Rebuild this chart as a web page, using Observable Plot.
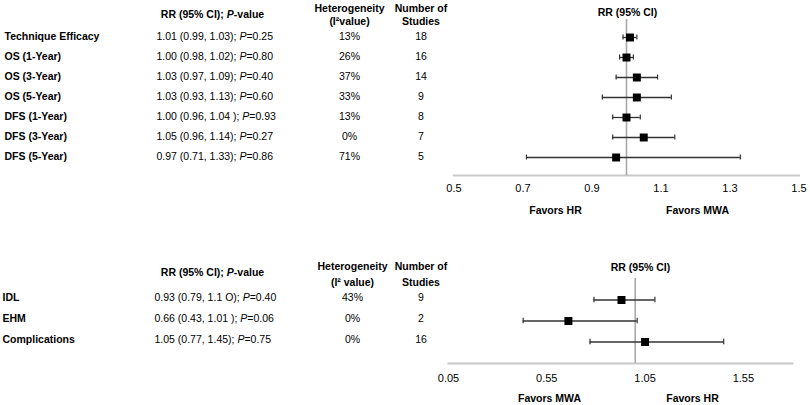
<!DOCTYPE html>
<html>
<head>
<meta charset="utf-8">
<script src="https://cdn.jsdelivr.net/npm/d3@7"></script>
<script src="https://cdn.jsdelivr.net/npm/@observablehq/plot@0.6"></script>
<style>
  html, body { margin: 0; padding: 0; background: #fff; }
  #chart { width: 810px; height: 405px; position: relative; overflow: hidden; }
  #chart svg { display: block; }
</style>
</head>
<body>
<div id="chart"></div>
<script>
// ---------- Data (top panel) ----------
const topOutcomes = ["Technique Efficacy", "OS (1-Year)", "OS (3-Year)", "OS (5-Year)", "DFS (1-Year)", "DFS (3-Year)", "DFS (5-Year)"];
const topRR    = [1.01, 1.00, 1.03, 1.03, 1.00, 1.05, 0.97];
const topLower = [0.99, 0.98, 0.97, 0.93, 0.96, 0.96, 0.71];
const topUpper = [1.03, 1.02, 1.09, 1.13, 1.04, 1.14, 1.33];
const topRRText = [
  "1.01 (0.99, 1.03); P=0.25",
  "1.00 (0.98, 1.02); P=0.80",
  "1.03 (0.97, 1.09); P=0.40",
  "1.03 (0.93, 1.13); P=0.60",
  "1.00 (0.96, 1.04 ); P=0.93",
  "1.05 (0.96, 1.14); P=0.27",
  "0.97 (0.71, 1.33); P=0.86"
];
const topI2 = ["13%", "26%", "37%", "33%", "13%", "0%", "71%"];
const topN = [18, 16, 14, 9, 8, 7, 5];
const topTicks = [0.5, 0.7, 0.9, 1.1, 1.3, 1.5];

// ---------- Data (bottom panel) ----------
const botOutcomes = ["IDL", "EHM", "Complications"];
const botRR    = [0.93, 0.66, 1.05];
const botLower = [0.79, 0.43, 0.77];
const botUpper = [1.10, 1.01, 1.45];
const botRRText = [
  "0.93 (0.79, 1.1 O); P=0.40",
  "0.66 (0.43, 1.01 ); P=0.06",
  "1.05 (0.77, 1.45); P=0.75"
];
const botI2 = ["43%", "0%", "0%"];
const botN = [9, 2, 16];
const botTicks = [0.05, 0.55, 1.05, 1.55];

const FONT = "'Liberation Sans', Arial, Helvetica, sans-serif";

function rowsOf(names, rr, lo, hi, txt, i2, n) {
  return names.map((name, i) => ({name, rr: rr[i], lo: lo[i], hi: hi[i], txt: txt[i], i2: i2[i], n: n[i]}));
}

function italicizeP(svg) {
  d3.select(svg).selectAll("g.pval text").each(function () {
    const s = this.textContent;
    const k = s.indexOf("P");
    if (k < 0) return;
    const sel = d3.select(this);
    sel.text(null);
    sel.append("tspan").text(s.slice(0, k));
    sel.append("tspan").attr("font-style", "italic").text("P");
    sel.append("tspan").text(s.slice(k + 1));
  });
}

function forest(cfg) {
  const data = rowsOf(cfg.names, cfg.rr, cfg.lo, cfg.hi, cfg.txt, cfg.i2, cfg.n);
  const L = cfg.marginLeft;
  const svg = Plot.plot({
    width: 810,
    height: cfg.height,
    marginLeft: L,
    marginRight: cfg.marginRight,
    marginTop: cfg.marginTop,
    marginBottom: cfg.marginBottom,
    style: {fontFamily: FONT, fontSize: "10.5px", color: "#000", background: "#fff", overflow: "visible"},
    x: {domain: cfg.xDomain},
    y: {type: "band", domain: cfg.names, paddingInner: 0, paddingOuter: cfg.paddingOuter, axis: null},
    marks: [
      Plot.frame({anchor: "bottom", stroke: "#c8c8c8", strokeWidth: 2}),
      Plot.ruleX([1], {stroke: "#a8a8a8", strokeWidth: 1.6}),
      Plot.axisX({ticks: cfg.ticks, tickFormat: d3.format(cfg.fmt), tickSize: 0, tickPadding: cfg.tickPadding, fontSize: 11, label: null}),
      // error bars
      Plot.ruleY(data, {y: "name", x1: "lo", x2: "hi", stroke: "#333", strokeWidth: 1.3}),
      Plot.tickX(data, {x: "lo", y: "name", stroke: "#333", strokeWidth: 1.2, insetTop: cfg.capInset, insetBottom: cfg.capInset}),
      Plot.tickX(data, {x: "hi", y: "name", stroke: "#333", strokeWidth: 1.2, insetTop: cfg.capInset, insetBottom: cfg.capInset}),
      Plot.dot(data, {x: "rr", y: "name", symbol: "square", r: 4.5, fill: "#000", stroke: "none"}),
      // table columns
      Plot.text(data, {y: "name", text: "name", frameAnchor: "left", dx: cfg.colLabel - L, dy: cfg.rowDy, textAnchor: "start", fontWeight: "bold"}),
      Plot.text(data, {y: "name", text: "txt", frameAnchor: "left", dx: cfg.colRR - L, dy: cfg.rowDy, textAnchor: "start", className: "pval"}),
      Plot.text(data, {y: "name", text: "i2", frameAnchor: "left", dx: cfg.colI2 - L, dy: cfg.rowDy, textAnchor: "middle"}),
      Plot.text(data, {y: "name", text: d => String(d.n), frameAnchor: "left", dx: cfg.colN - L, dy: cfg.rowDy, textAnchor: "middle"}),
      // table headers
      Plot.text(["RR (95% CI); P-value"], {frameAnchor: "top-left", dx: cfg.colRRHead - L, dy: cfg.rrHeadDy, textAnchor: "middle", lineAnchor: "middle", fontWeight: "bold", className: "pval"}),
      Plot.text([cfg.hetHead], {frameAnchor: "top-left", dx: cfg.colI2 - L, dy: cfg.headDy, textAnchor: "middle", lineAnchor: "middle", lineHeight: cfg.headLH, fontWeight: "bold"}),
      Plot.text(["Number of\nStudies"], {frameAnchor: "top-left", dx: cfg.colN - L, dy: cfg.headDy, textAnchor: "middle", lineAnchor: "middle", lineHeight: cfg.headLH, fontWeight: "bold"}),
      // plot header and favour labels
      Plot.text(["RR (95% CI)"], {frameAnchor: "top", dx: cfg.plotHeadDx, dy: cfg.plotHeadDy, textAnchor: "middle", lineAnchor: "middle", fontWeight: "bold"}),
      Plot.text([cfg.favLeft], {frameAnchor: "bottom", dx: cfg.favLeftDx, dy: 35, textAnchor: "middle", lineAnchor: "middle", fontWeight: "bold"}),
      Plot.text([cfg.favRight], {frameAnchor: "bottom", dx: cfg.favRightDx, dy: 35, textAnchor: "middle", lineAnchor: "middle", fontWeight: "bold"})
    ]
  });
  italicizeP(svg);
  return svg;
}

const topSvg = forest({
  names: topOutcomes, rr: topRR, lo: topLower, hi: topUpper, txt: topRRText, i2: topI2, n: topN,
  height: 220, marginLeft: 453.5, marginRight: 11.5, marginTop: 19, marginBottom: 45,
  xDomain: [0.5, 1.5], ticks: topTicks, fmt: ".1f", tickPadding: 9,
  paddingOuter: 0.4, capInset: 7.5, rowDy: -1,
  colLabel: 4, colRR: 156, colI2: 349, colN: 420.5,
  colRRHead: 212, rrHeadDy: -5, hetHead: "Heterogeneity\n(I\u00B2value)", headDy: -5.5, headLH: 1.28,
  plotHeadDx: 1, plotHeadDy: -7,
  favLeft: "Favors HR", favLeftDx: -71, favRight: "Favors MWA", favRightDx: 71
});

const botSvg = forest({
  names: botOutcomes, rr: botRR, lo: botLower, hi: botUpper, txt: botRRText, i2: botI2, n: botN,
  height: 185, marginLeft: 448, marginRight: 18, marginTop: 58, marginBottom: 42,
  xDomain: [0.05, 1.8], ticks: botTicks, fmt: ".2f", tickPadding: 10.5,
  paddingOuter: 0.477, capInset: 7.75, rowDy: -2.5,
  colLabel: 2, colRR: 154, colI2: 352, colN: 420.5,
  colRRHead: 212, rrHeadDy: -6, hetHead: "Heterogeneity\n(I\u00B2 value)", headDy: -6, headLH: 1.52,
  plotHeadDx: 20, plotHeadDy: -11,
  favLeft: "Favors MWA", favLeftDx: -71, favRight: "Favors HR", favRightDx: 72
});

const chart = document.getElementById("chart");
chart.appendChild(topSvg);
chart.appendChild(botSvg);
</script>
</body>
</html>
